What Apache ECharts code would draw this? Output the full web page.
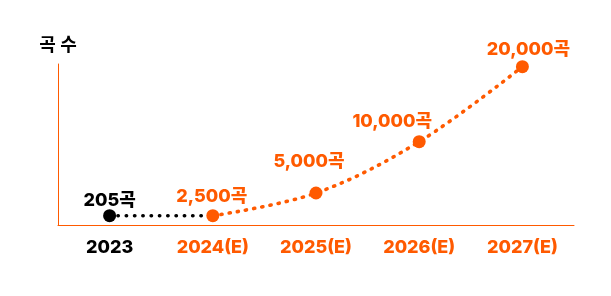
<!DOCTYPE html>
<html>
<head>
<meta charset="utf-8">
<script src="https://cdn.jsdelivr.net/npm/echarts@6/dist/echarts.min.js"></script>
<style>html,body{margin:0;padding:0;background:#fff}#c{width:611px;height:296px}</style>
</head>
<body>
<div id="c"></div>
<script>
// Data
const categories = ['2023', '2024(E)', '2025(E)', '2026(E)', '2027(E)'];
const songCounts = [205, 2500, 5000, 10000, 20000];          // label values (곡)
const plotLevels = [1155, 1155, 3975, 10350, 19670];          // drawn heights
const unit = '곡';
const yName = '곡 수';

// Styles
const ORANGE = '#FF5A00';
const BLACK = '#000000';
const FONT = 'Inter, "Noto Sans CJK KR", sans-serif';
const labelOffsets = [[0, 5], [-1, 1], [-7, -10.5], [-27, 0], [6, 3]];

function fmt(n) { return n.toLocaleString('en-US') + unit; }

const actualData = categories.map((c, i) => i <= 1 ? {
  value: plotLevels[i],
  symbolSize: i === 0 ? 13 : 0,
  label: i === 0 ? { show: true, formatter: fmt(songCounts[i]), offset: labelOffsets[i] } : { show: false }
} : '-');

const forecastData = categories.map((c, i) => i >= 1 ? {
  value: plotLevels[i],
  label: { show: true, formatter: fmt(songCounts[i]), offset: labelOffsets[i] }
} : '-');

const chart = echarts.init(document.getElementById('c'), null, { renderer: 'canvas' });
chart.setOption({
  animation: false,
  grid: { left: 58, right: 37, top: 64, bottom: 71 },
  xAxis: {
    type: 'category',
    data: categories,
    boundaryGap: true,
    axisLine: { show: true, lineStyle: { color: ORANGE, width: 1, opacity: 1 } },
    axisTick: { show: false },
    axisLabel: {
      margin: 14,
      fontSize: 18,
      fontWeight: 800,
      fontFamily: FONT,
      color: (v, i) => (i === 0 ? BLACK : ORANGE)
    }
  },
  yAxis: {
    type: 'value',
    min: 0,
    max: 20000,
    name: yName,
    nameLocation: 'end',
    nameGap: 9,
    nameTextStyle: { color: BLACK, fontSize: 18, fontWeight: 600, fontFamily: FONT },
    axisLine: { show: true, lineStyle: { color: ORANGE, width: 1, opacity: 1 } },
    axisTick: { show: false },
    axisLabel: { show: false },
    splitLine: { show: false }
  },
  series: [
    {
      type: 'line',
      data: actualData,
      symbol: 'circle',
      itemStyle: { color: BLACK },
      lineStyle: { color: BLACK, width: 3.5, type: [0.4, 7.9], cap: 'round' },
      label: { position: 'top', color: BLACK, fontSize: 18, fontWeight: 800, fontFamily: FONT },
      z: 2
    },
    {
      type: 'line',
      data: forecastData,
      smooth: 0.35,
      symbol: 'circle',
      symbolSize: 13,
      itemStyle: { color: ORANGE },
      lineStyle: { color: ORANGE, width: 3.6, type: [1.2, 7.1], cap: 'round' },
      label: { position: 'top', color: ORANGE, fontSize: 18, fontWeight: 800, fontFamily: FONT },
      z: 3
    }
  ]
});
</script>
</body>
</html>
